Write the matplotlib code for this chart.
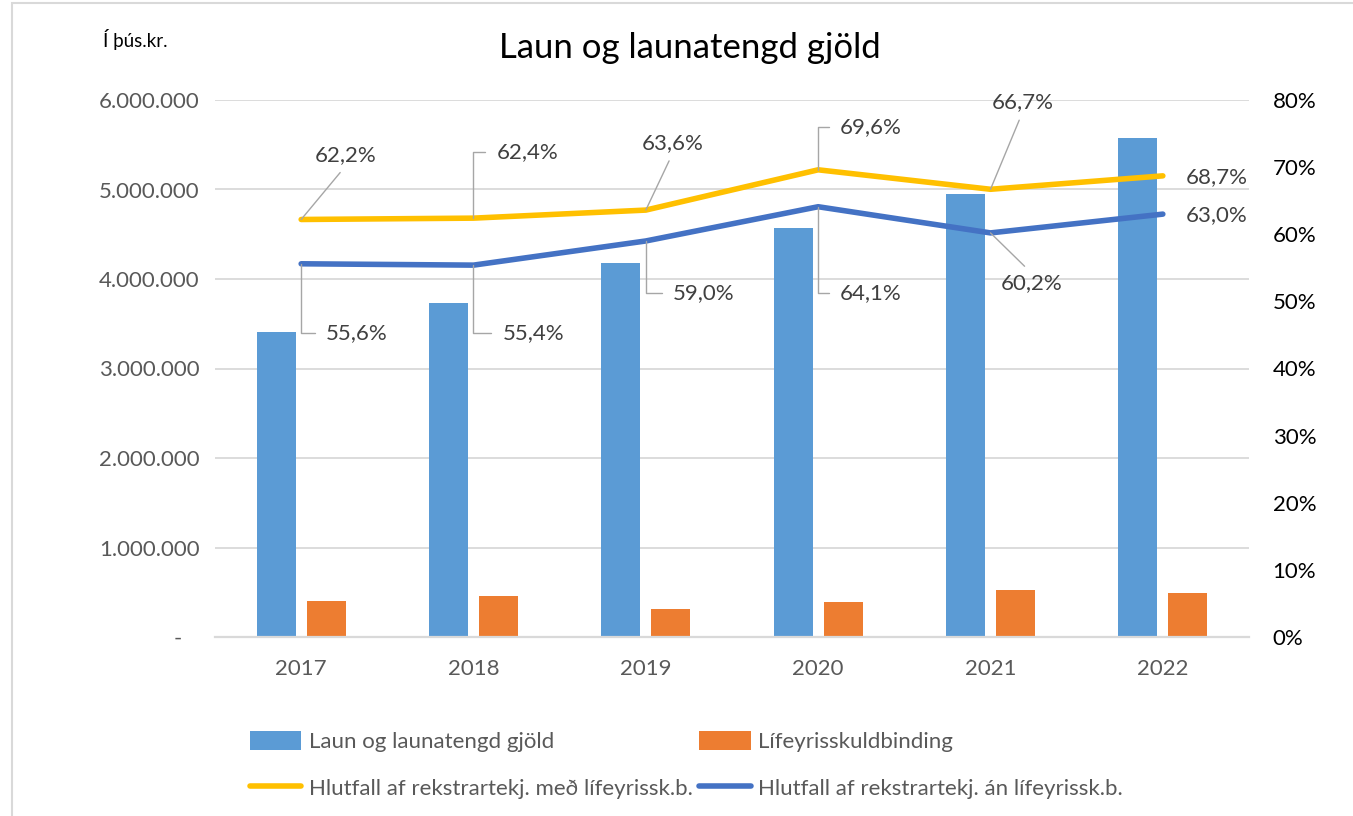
import matplotlib.pyplot as plt
import matplotlib.patches as patches
from matplotlib.ticker import FuncFormatter, MultipleLocator
import numpy as np

plt.rcParams['font.family'] = ['Lato', 'DejaVu Sans']

years = ['2017', '2018', '2019', '2020', '2021', '2022']
laun = [3408000, 3732000, 4179000, 4570000, 4950000, 5575000]
lifeyrir = [402000, 458000, 316000, 388000, 525000, 492000]
hlutfall_med = [62.2, 62.4, 63.6, 69.6, 66.7, 68.7]
hlutfall_an = [55.6, 55.4, 59.0, 64.1, 60.2, 63.0]

# where each data label sits relative to its point (pixels) and the leader style
med_labels = [(14, 64, 'diag'), (23, 66, 'elbow'), (-4, 67, 'diag'),
              (22, 43, 'elbow'), (1, 87, 'diag'), (23, -1, None)]
an_labels = [(25, -69, 'elbow'), (29, -68, 'elbow'), (27, -52, 'elbow'),
             (22, -86, 'elbow'), (10, -50, 'diag'), (23, -1, None)]

FS = 16
W, H = 1353, 816
fig = plt.figure(figsize=(W / 100, H / 100), dpi=100)
ax = fig.add_axes([215 / W, 1 - 637 / H, (1249 - 215) / W, (637 - 100) / H])
ax2 = ax.twinx()

x = np.arange(len(years))
bw = 0.226
b1 = ax.bar(x - 0.145, laun, bw, color='#5B9BD5', zorder=2,
            label='Laun og launatengd gjöld')
b2 = ax.bar(x + 0.145, lifeyrir, bw, color='#ED7D31', zorder=2,
            label='Lífeyrisskuldbinding')

ax.set_xlim(-0.5, 5.5)
ax.set_ylim(0, 6000000)
ax.yaxis.set_major_locator(MultipleLocator(1000000))


def kr(v, pos):
    if v == 0:
        return '-   '
    return f'{int(v):,}'.replace(',', '.')


ax.yaxis.set_major_formatter(FuncFormatter(kr))
ax.set_xticks(x)
ax.set_xticklabels(years)
ax.grid(axis='y', color='#D9D9D9', lw=1.3, zorder=0)
ax.set_axisbelow(True)
for s in ['top', 'left', 'right']:
    ax.spines[s].set_visible(False)
ax.spines['bottom'].set_color('#D9D9D9')
ax.spines['bottom'].set_linewidth(1.6)
ax.tick_params(axis='y', length=0, pad=11, labelsize=FS, labelcolor='#595959')
ax.tick_params(axis='x', length=0, pad=16, labelsize=FS, labelcolor='#595959')

l1, = ax2.plot(x, hlutfall_med, color='#FFC000', lw=4, solid_capstyle='round',
               label='Hlutfall af rekstrartekj. með lífeyrissk.b.')
l2, = ax2.plot(x, hlutfall_an, color='#4472C4', lw=4, solid_capstyle='round',
               label='Hlutfall af rekstrartekj. án lífeyrissk.b.')
ax2.set_ylim(0, 80)
ax2.yaxis.set_major_locator(MultipleLocator(10))
ax2.yaxis.set_major_formatter(FuncFormatter(lambda v, p: f'{int(v)}%'))
for s in ax2.spines.values():
    s.set_visible(False)
ax2.tick_params(axis='y', length=0, pad=17, labelsize=FS, labelcolor='#000000')


def add_labels(vals, opts):
    for i, (v, (dx, dy, kind)) in enumerate(zip(vals, opts)):
        txt = f'{v:.1f}%'.replace('.', ',')
        arrow = None
        if kind == 'elbow':
            arrow = dict(arrowstyle='-', color='#A6A6A6', lw=1, relpos=(0, 0.5),
                         shrinkA=6, shrinkB=0,
                         connectionstyle='angle,angleA=0,angleB=90,rad=0')
        elif kind == 'diag':
            arrow = dict(arrowstyle='-', color='#A6A6A6', lw=1,
                         relpos=(0.5, 0) if dy > 0 else (0.5, 1),
                         shrinkA=4, shrinkB=0)
        ax2.annotate(txt, xy=(i, v), xytext=(dx, dy), textcoords='offset pixels',
                     ha='left', va='center', fontsize=FS, color='#404040',
                     arrowprops=arrow)


add_labels(hlutfall_med, med_labels)
add_labels(hlutfall_an, an_labels)

fig.text(690 / W, 1 - 48 / H, 'Laun og launatengd gjöld', ha='center', va='center',
         fontsize=25, color='#000000')
fig.text(103 / W, 1 - 40 / H, 'Í þús.kr.', ha='left', va='center',
         fontsize=13.5, color='#000000')

fig.legend([b1, l1, b2, l2],
           [b1.get_label(), l1.get_label(), b2.get_label(), l2.get_label()],
           ncol=2, loc='upper left', bbox_to_anchor=(250 / W, 1 - 731 / H),
           frameon=False, fontsize=FS, labelcolor='#595959', borderpad=0,
           borderaxespad=0, handlelength=2.3, handleheight=0.95,
           handletextpad=0.35, columnspacing=0.3, labelspacing=1.15)

fig.patches.append(patches.Rectangle((12 / W, -0.01), 1.1, 1.01 - 3 / H,
                                     transform=fig.transFigure, fill=False,
                                     ec='#D9D9D9', lw=1.5))

fig.savefig('out.png', dpi=100)
